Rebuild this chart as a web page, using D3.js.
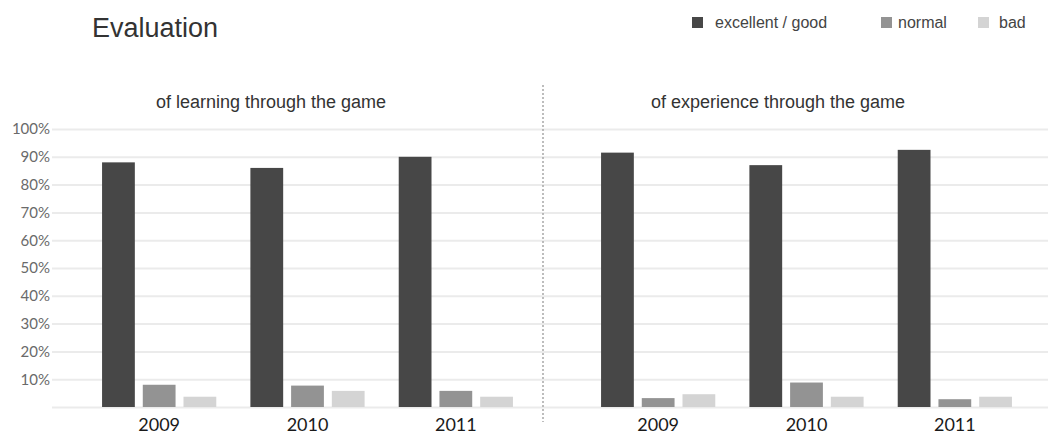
<!DOCTYPE html>
<html>
<head>
<meta charset="utf-8">
<script src="https://cdn.jsdelivr.net/npm/d3@7"></script>
<style>
  body { margin: 0; background: #fff; }
  svg { display: block; }
</style>
</head>
<body>
<div id="chart"></div>
<script>
// data
let years = ["2009", "2010", "2011"];
let ratings = ["excellent / good", "normal", "bad"];
let learningExcellent = [88, 86, 90];
let learningNormal = [8, 7.7, 5.8];
let learningBad = [3.7, 5.8, 3.7];
let experienceExcellent = [91.5, 87, 92.5];
let experienceNormal = [3.2, 8.8, 2.8];
let experienceBad = [4.6, 3.7, 3.7];
let yTicks = [0, 10, 20, 30, 40, 50, 60, 70, 80, 90, 100];

let width = 1048, height = 434;
let colors = ["#474747", "#939393", "#d4d4d4"];

let svg = d3.select("#chart")
    .append("svg")
    .attr("width", width)
    .attr("height", height);

let y = d3.scaleLinear().domain([0, 100]).range([407, 129]);

// gridlines + y labels
let yAxis = svg.append("g")
    .attr("transform", "translate(52, 0)")
    .call(d3.axisLeft(y)
        .tickValues(yTicks)
        .tickSize(-(width - 52))
        .tickPadding(2)
        .tickFormat(d => d === 0 ? "" : d + "%"));
yAxis.select(".domain").remove();
yAxis.selectAll("line").attr("stroke", "#ebebeb").attr("stroke-width", 2);
yAxis.selectAll("text")
    .style("font-family", "Lato, 'Open Sans', sans-serif")
    .style("font-size", "15px")
    .attr("fill", "#6a6a6a");

// dotted divider between panels
svg.append("line")
    .attr("x1", 543).attr("x2", 543)
    .attr("y1", 85).attr("y2", 422)
    .attr("stroke", "#a8a8a8")
    .attr("stroke-width", 1.5)
    .attr("stroke-dasharray", "2,2");

let panels = [
    { title: "of learning through the game", range: [85, 530], titleX: 271,
      series: [learningExcellent, learningNormal, learningBad] },
    { title: "of experience through the game", range: [584, 1029], titleX: 778,
      series: [experienceExcellent, experienceNormal, experienceBad] }
];

panels.forEach(function(p) {
    let x0 = d3.scaleBand().domain(years).range(p.range)
        .paddingInner(0.23).paddingOuter(0.115);
    let x1 = d3.scaleBand().domain(ratings).range([0, x0.bandwidth()])
        .paddingInner(0.195);

    let rows = years.map(function(yr, i) {
        return { year: yr, vals: ratings.map((r, j) => ({ rating: r, value: p.series[j][i], c: colors[j] })) };
    });

    let g = svg.append("g");
    g.selectAll("g.grp")
        .data(rows)
        .enter()
        .append("g")
        .attr("class", "grp")
        .attr("transform", d => `translate(${x0(d.year)},0)`)
        .selectAll("rect")
        .data(d => d.vals)
        .enter()
        .append("rect")
        .attr("x", d => x1(d.rating))
        .attr("y", d => y(d.value))
        .attr("width", x1.bandwidth())
        .attr("height", d => y(0) - y(d.value))
        .attr("fill", d => d.c);

    let xAxis = svg.append("g")
        .attr("transform", `translate(0, ${y(0)})`)
        .call(d3.axisBottom(x0).tickSize(0).tickPadding(11));
    xAxis.select(".domain").remove();
    xAxis.selectAll("text")
        .style("font-family", "Lato, 'Open Sans', sans-serif")
        .style("font-size", "18px")
        .attr("fill", "#1a1a1a");

    svg.append("text")
        .attr("x", p.titleX)
        .attr("y", 108)
        .style("text-anchor", "middle")
        .style("font-family", "'Liberation Sans', Arial, sans-serif")
        .style("font-size", "18px")
        .attr("fill", "#333")
        .text(p.title);
});

svg.append("text")
    .attr("x", 92)
    .attr("y", 37)
    .style("font-family", "'Liberation Sans', Arial, sans-serif")
    .style("font-size", "27px")
    .attr("fill", "#333")
    .text("Evaluation");

// legend
let legendX = [692, 881, 978];
let legendGap = [23, 17, 21];
let legend = svg.append("g").selectAll("g")
    .data(ratings)
    .enter()
    .append("g")
    .attr("transform", (d, i) => `translate(${legendX[i]}, 17)`);
legend.append("rect")
    .attr("width", 11)
    .attr("height", 11)
    .attr("fill", (d, i) => colors[i]);
legend.append("text")
    .attr("x", (d, i) => legendGap[i])
    .attr("y", 10.5)
    .style("font-family", "'Liberation Sans', Arial, sans-serif")
    .style("font-size", "16px")
    .attr("fill", "#444")
    .text(d => d);
</script>
</body>
</html>
